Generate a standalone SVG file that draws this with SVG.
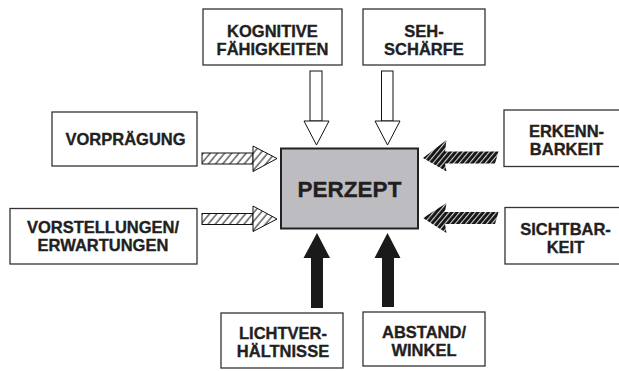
<svg xmlns="http://www.w3.org/2000/svg" width="619" height="371" viewBox="0 0 619 371">
<defs>
<pattern id="hatchLight" patternUnits="userSpaceOnUse" width="5.5" height="10" patternTransform="rotate(40)">
<rect width="5.5" height="10" fill="#fff"/>
<line x1="1" y1="0" x2="1" y2="10" stroke="#111" stroke-width="1"/>
</pattern>
<pattern id="hatchDark" patternUnits="userSpaceOnUse" width="4" height="10" patternTransform="rotate(40)">
<rect width="4" height="10" fill="#141414"/>
<line x1="0.6" y1="0" x2="0.6" y2="10" stroke="#fff" stroke-width="0.9"/>
</pattern>
</defs>
<style>
.box{fill:#fff;stroke:#333;stroke-width:1.3}
.t{font-family:"Liberation Sans",Arial,sans-serif;font-weight:bold;font-size:16.5px;fill:#231f20;stroke:#231f20;stroke-width:0.35;text-anchor:middle}
.hollow{fill:#fff;stroke:#111;stroke-width:1}
.solid{fill:#1a1a1a}
.light{fill:url(#hatchLight);stroke:#111;stroke-width:1}
.dark{fill:url(#hatchDark)}
</style>
<rect width="619" height="371" fill="#fff"/>

<g id="connectors">
<rect class="hollow" x="310" y="71" width="12" height="50"/>
<polygon class="hollow" points="304,121 329,121 316.5,145"/>
<rect class="hollow" x="381.5" y="71" width="11.5" height="50"/>
<polygon class="hollow" points="375,121 400,121 387.5,145"/>
<polygon class="solid" points="317,233 330,258 323,258 323,308 311,308 311,258 303.5,258"/>
<polygon class="solid" points="387.5,233 400.5,258 394,258 394,307 382,307 382,258 374.5,258"/>
<rect class="light" x="202" y="153" width="51" height="11"/>
<polygon class="light" points="253,146 277,158.5 253,171.5"/>
<rect class="light" x="202" y="213.5" width="51" height="11"/>
<polygon class="light" points="253,206 277,219 253,231.5"/>
<polygon class="dark" points="423,158 446.5,140 445,151.5 498.5,151.5 495,163.5 445,163.5 446.5,171.5"/>
<polygon class="dark" points="423,218 446.5,203 445,212 498.5,212 495,224 445,224 446.5,233"/>
</g>

<g id="perzept">
<rect x="281" y="148.5" width="137" height="80" fill="#bdbdc1" stroke="#222" stroke-width="2"/>
<text class="t" x="349.5" y="197" style="font-size:22.5px">PERZEPT</text>
</g>

<g id="kognitive">
<rect class="box" x="203" y="9" width="139" height="56"/>
<text class="t" x="272.5" y="37">KOGNITIVE</text>
<text class="t" x="272.5" y="54.5">FÄHIGKEITEN</text>
</g>

<g id="sehschaerfe">
<rect class="box" x="363" y="9" width="122" height="56"/>
<text class="t" x="424" y="37">SEH-</text>
<text class="t" x="424" y="54.5">SCHÄRFE</text>
</g>

<g id="vorpraegung">
<rect class="box" x="52" y="112" width="145" height="54"/>
<text class="t" x="125.5" y="145">VORPRÄGUNG</text>
</g>

<g id="vorstellungen">
<rect class="box" x="10" y="208.5" width="187" height="55.5"/>
<text class="t" x="103" y="233">VORSTELLUNGEN/</text>
<text class="t" x="103" y="250.5">ERWARTUNGEN</text>
</g>

<g id="erkennbarkeit">
<rect class="box" x="504" y="110" width="130" height="56.5"/>
<text class="t" x="566.5" y="137">ERKENN-</text>
<text class="t" x="566.5" y="155">BARKEIT</text>
</g>

<g id="sichtbarkeit">
<rect class="box" x="505" y="207.5" width="130" height="56.5"/>
<text class="t" x="565.5" y="235">SICHTBAR-</text>
<text class="t" x="565.5" y="253">KEIT</text>
</g>

<g id="lichtverhaeltnisse">
<rect class="box" x="221" y="313" width="122" height="55"/>
<text class="t" x="283" y="338.5">LICHTVER-</text>
<text class="t" x="283" y="356.5">HÄLTNISSE</text>
</g>

<g id="abstand">
<rect class="box" x="363" y="312" width="122" height="54"/>
<text class="t" x="424" y="338">ABSTAND/</text>
<text class="t" x="424" y="355.5">WINKEL</text>
</g>
</svg>
